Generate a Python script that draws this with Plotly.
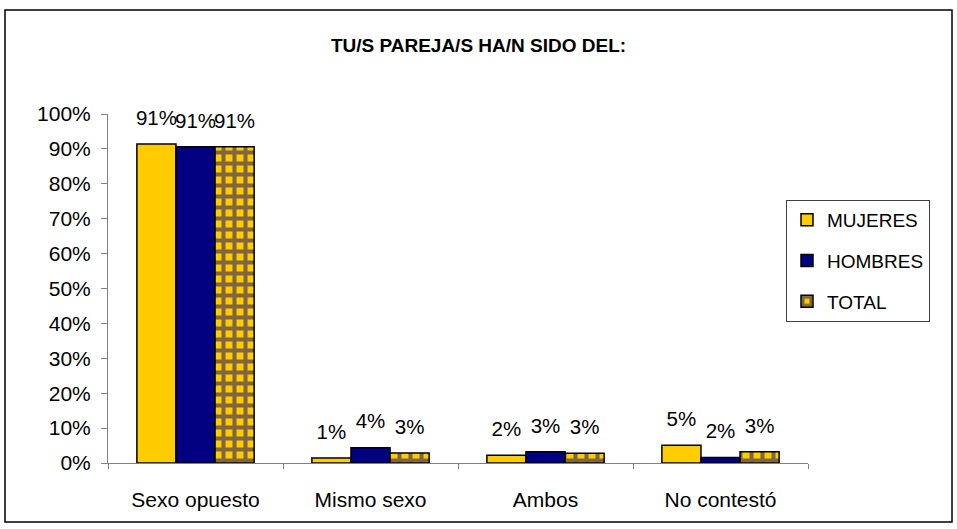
import plotly.graph_objects as go

categories = ["Sexo opuesto", "Mismo sexo", "Ambos", "No contestó"]
series_names = ["MUJERES", "HOMBRES", "TOTAL"]
mujeres = [0.914, 0.014, 0.022, 0.051]
hombres = [0.906, 0.044, 0.032, 0.016]
total = [0.906, 0.029, 0.028, 0.032]
y_ticks = [i / 10 for i in range(11)]
y_tick_labels = [f"{i*10}%" for i in range(11)]

W, H = 957, 529
L, R, T, B = 108, 149, 114, 66
pw, ph = W - L - R, H - T - B

GOLD = "#FFCC00"
NAVY = "#000080"
FONT = "Liberation Sans, Arial, sans-serif"
GAP = 0.33

fig = go.Figure()
styles = [
    dict(color=GOLD, line=dict(color="black", width=1.5)),
    dict(color=NAVY, line=dict(color="black", width=1.5)),
    dict(color=GOLD, line=dict(color="black", width=1.5),
         pattern=dict(shape="+", fgcolor=NAVY, bgcolor=GOLD, size=11,
                      solidity=0.6, fillmode="overlay")),
]
for i, (name, vals) in enumerate(zip(series_names, [mujeres, hombres, total])):
    fig.add_trace(go.Bar(name=name, x=categories, y=vals, legendgroup=name,
                         marker=styles[i], hoverinfo="x+y"))
# value labels, grouped like the bars
for i, (name, vals) in enumerate(zip(series_names, [mujeres, hombres, total])):
    fig.add_trace(go.Scatter(
        x=categories, y=vals, mode="markers+text", showlegend=False,
        texttemplate="%{y:.0%}", textposition="top center",
        textfont=dict(size=20.5, color="black", family=FONT),
        marker=dict(size=21, opacity=0), cliponaxis=False, hoverinfo="skip",
    ))

fig.update_layout(
    width=W, height=H,
    margin=dict(l=L, r=R, t=T, b=B),
    paper_bgcolor="white", plot_bgcolor="white",
    barmode="group", bargap=GAP, bargroupgap=0,
    scattermode="group", scattergap=GAP,
    font=dict(family=FONT, size=20, color="black"),
    title=dict(text="<b>TU/S PAREJA/S HA/N SIDO DEL:</b>", x=0.5, xanchor="center",
               y=1 - 45 / H, yanchor="middle",
               font=dict(size=19, family=FONT, color="black")),
    showlegend=True,
    legend=dict(
        x=(786 - L) / pw, xanchor="left",
        y=(H - B - 200) / ph, yanchor="top",
        bordercolor="#404040", borderwidth=1, bgcolor="white",
        font=dict(size=19, family=FONT, color="black"),
        traceorder="grouped", tracegroupgap=13,
    ),
    xaxis=dict(
        type="category", tickson="boundaries", ticks="outside", ticklen=5,
        tickcolor="#808080", showline=True, linecolor="#808080", linewidth=1,
        showgrid=False, tickfont=dict(size=21), ticklabelstandoff=18,
    ),
    yaxis=dict(
        range=[0, 1], tickvals=y_ticks, ticktext=y_tick_labels,
        ticks="outside", ticklen=6, tickcolor="#808080",
        showline=True, linecolor="#808080", linewidth=1,
        showgrid=False, zeroline=False, tickfont=dict(size=21),
        ticklabelstandoff=6,
    ),
    shapes=[dict(type="rect", xref="paper", yref="paper",
                 x0=(5 - L) / pw, x1=(952 - L) / pw,
                 y0=(H - B - 522) / ph, y1=(H - B - 10) / ph,
                 line=dict(color="black", width=1.5), fillcolor="rgba(0,0,0,0)",
                 layer="below")],
)

fig.write_html("out.html", config={"displayModeBar": False},
               post_script="document.body.style.margin='0';document.body.style.overflow='hidden';")
